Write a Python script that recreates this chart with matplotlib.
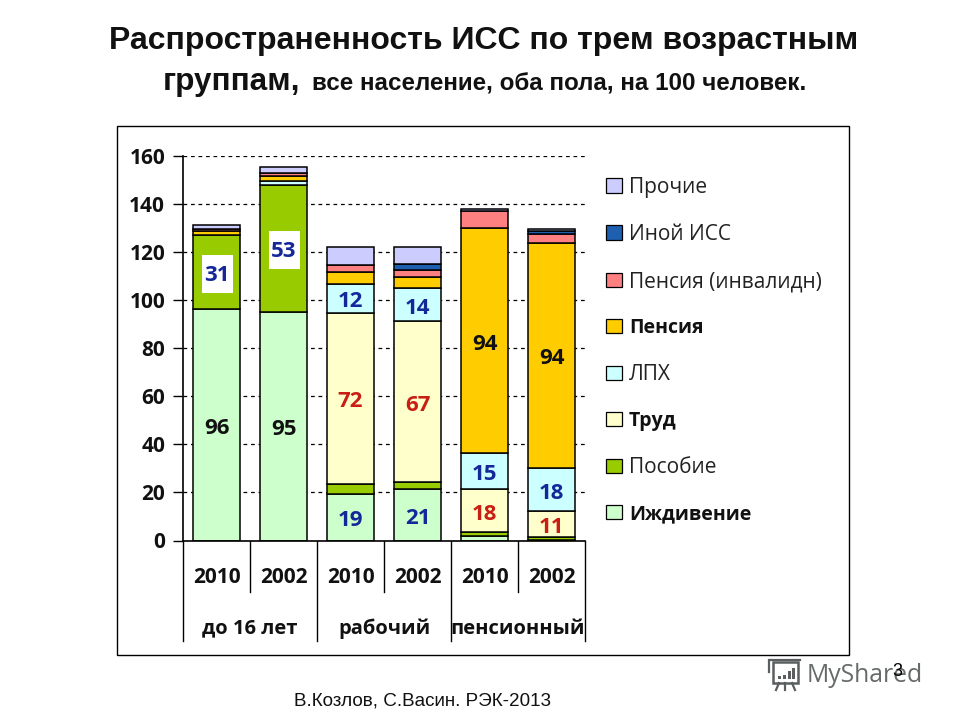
import matplotlib
matplotlib.use('Agg')
import matplotlib.pyplot as plt
from matplotlib.patches import Rectangle, Patch
from matplotlib.lines import Line2D
from matplotlib.transforms import blended_transform_factory
import numpy as np

years = ['2010', '2002', '2010', '2002', '2010', '2002']
groups = ['до 16 лет', 'рабочий', 'пенсионный']
series_names = ['Иждивение', 'Пособие', 'Труд', 'ЛПХ', 'Пенсия', 'Пенсия (инвалидн)', 'Иной ИСС', 'Прочие']
izhdivenie = [96.5, 95.0, 19.2, 21.3, 1.7, 0.4]
posobie = [30.7, 53.0, 4.2, 2.9, 1.7, 0.9]
trud = [0, 0, 71.4, 67.1, 17.9, 10.9]
lph = [0, 1.7, 12.1, 13.7, 15.1, 18.0]
pensia = [1.5, 1.9, 4.7, 4.7, 93.6, 93.6]
invalid = [1.0, 1.4, 3.2, 3.0, 7.0, 3.9]
inoy = [0, 0, 0, 2.3, 0, 1.1]
prochie = [1.5, 2.5, 7.4, 7.2, 1.0, 0.9]
series = [izhdivenie, posobie, trud, lph, pensia, invalid, inoy, prochie]
colors = ['#CCFFCC', '#99CC00', '#FFFFCC', '#CCFFFF', '#FFCC00', '#FF8080', '#1F5FB0', '#CCCCFF']
bold_names = {'Иждивение', 'Труд', 'Пенсия'}
yticks = [0, 20, 40, 60, 80, 100, 120, 140, 160]

# (bar index, series index, label, colour, white box)
BLUE, RED, BLACK = '#14289A', '#C81E14', '#111111'
bar_labels = [
    (0, 0, '96', BLACK, False), (1, 0, '95', BLACK, False),
    (0, 1, '31', BLUE, True), (1, 1, '53', BLUE, True),
    (2, 0, '19', BLUE, False), (3, 0, '21', BLUE, False),
    (2, 2, '72', RED, False), (3, 2, '67', RED, False),
    (2, 3, '12', BLUE, False), (3, 3, '14', BLUE, False),
    (4, 2, '18', RED, False), (5, 2, '11', RED, False),
    (4, 3, '15', BLUE, False), (5, 3, '18', BLUE, False),
    (4, 4, '94', BLACK, False), (5, 4, '94', BLACK, False),
]

W, H = 960, 720
SANS = ['Open Sans', 'DejaVu Sans']
ARIAL = ['Liberation Sans', 'DejaVu Sans']
fig = plt.figure(figsize=(9.6, 7.2), dpi=100, facecolor='white')

def fx(px): return px / W
def fy(py): return 1 - py / H

fig.add_artist(Rectangle((fx(117), fy(655)), 732 / W, 529 / H, transform=fig.transFigure,
                         fill=False, edgecolor='black', lw=1))

ax = fig.add_axes([fx(183.2), fy(540.5), (585 - 183.2) / W, (540.5 - 156) / H])
ax.set_xlim(-0.5, 5.5)
ax.set_ylim(0, 160)
ax.patch.set_alpha(0)
for s in ['top', 'right', 'bottom']:
    ax.spines[s].set_visible(False)
ax.spines['left'].set_linewidth(1.2)
ax.set_axisbelow(True)
ax.yaxis.grid(True, linestyle=(0, (3, 3)), color='black', lw=0.9)
ax.set_yticks(yticks)
ax.set_yticklabels([str(v) for v in yticks], family=SANS, fontweight='bold', fontsize=15, color='#111111')
ax.tick_params(axis='y', length=7, width=1, pad=6)
ax.set_xticks([])

x = np.arange(6)
bottom = np.zeros(6)
bottoms = []
for vals, c in zip(series, colors):
    vals = np.array(vals, float)
    bottoms.append(bottom.copy())
    mask = vals > 0
    ax.bar(x[mask], vals[mask], bottom=bottom[mask], width=0.71, color=c, edgecolor='black', lw=1.1, zorder=3)
    bottom = bottom + vals

for i, si, txt, col, box in bar_labels:
    ymid = bottoms[si][i] + series[si][i] / 2
    if box:
        ax.add_patch(Rectangle((i - 0.22, ymid - 8.7), 0.46, 15.8, facecolor='white', edgecolor='none', zorder=4))
    ax.annotate(txt, (i, ymid), xytext=(0, -2.5), textcoords='offset points', ha='center', va='center',
                family=SANS, fontweight='bold', fontsize=16, color=col, zorder=5)

# multi-level category axis
tr = blended_transform_factory(ax.transData, fig.transFigure)
ax.plot([-0.5, 5.5], [0, 0], color='black', lw=1.2, clip_on=False, zorder=6)
for i in range(7):
    long_line = i % 2 == 0
    low = 641 if long_line else 592
    ax.add_artist(Line2D([i - 0.5, i - 0.5], [fy(540.5), fy(low)], transform=tr, color='black',
                         lw=1, clip_on=False))
for i, yr in enumerate(years):
    ax.text(i, fy(577.5), yr, transform=tr, ha='center', va='center', family=SANS,
            fontweight='bold', fontsize=15, color='#111111', clip_on=False)
for i, g in enumerate(groups):
    ax.text(2 * i + 0.5, fy(628.5), g, transform=tr, ha='center', va='center', family=SANS,
            fontweight='bold', fontsize=14.5, color='#111111', clip_on=False)

# legend
handles = [Patch(facecolor=c, edgecolor='black', lw=0.9, label=n) for c, n in zip(colors, series_names)][::-1]
leg = fig.legend(handles=handles, loc='upper left', bbox_to_anchor=(fx(606), fy(177)), frameon=False,
                 prop={'family': SANS, 'size': 15}, labelspacing=1.25, handlelength=0.75, handleheight=0.7,
                 handletextpad=0.35, borderpad=0, borderaxespad=0)
for t in leg.get_texts():
    t.set_color('#222222')
    if t.get_text() in bold_names:
        t.set_fontweight('bold')
        t.set_fontsize(14)
        t.set_color('#111111')

# titles
fig.text(fx(484), fy(41), 'Распространенность ИСС по трем возрастным', ha='center', va='center',
         family=ARIAL, fontweight='bold', fontsize=23, color='#111111')
fig.text(fx(163), fy(82), 'группам,', ha='left', va='center', family=ARIAL, fontweight='bold',
         fontsize=22.6, color='#111111')
fig.text(fx(312), fy(84), 'все население, оба пола, на 100 человек.', ha='left', va='center',
         family=ARIAL, fontweight='bold', fontsize=17.35, color='#111111')
fig.text(fx(423), fy(701), 'В.Козлов, С.Васин. РЭК-2013', ha='center', va='center', family=ARIAL,
         fontsize=13.6, color='#111111')

# watermark
fig.text(fx(807), fy(675), 'MyShared', ha='left', va='center', family=SANS, fontsize=17.8, color='#666a6a')
gray = '#5a5e5e'
fig.add_artist(Rectangle((fx(773), fy(683)), 25 / W, 21 / H, transform=fig.transFigure, fill=False,
                         edgecolor=gray, lw=1.8))
for bx, bh in zip([778, 783, 788, 792], [3, 4, 8, 11]):
    fig.add_artist(Rectangle((fx(bx), fy(679)), 2.5 / W, bh / H, transform=fig.transFigure, color=gray, lw=0))
for (a, b) in [((779, 683), (776, 690)), ((785, 683), (785, 690)), ((792, 683), (795, 690)),
               ((769, 662), (769, 672)), ((769, 660), (800, 660))]:
    fig.add_artist(Line2D([fx(a[0]), fx(b[0])], [fy(a[1]), fy(b[1])], transform=fig.transFigure, color=gray, lw=1.6))
fig.text(fx(897), fy(671), '3', ha='center', va='center', family=ARIAL, fontsize=13, color='black')

fig.savefig('out.png', dpi=100)
